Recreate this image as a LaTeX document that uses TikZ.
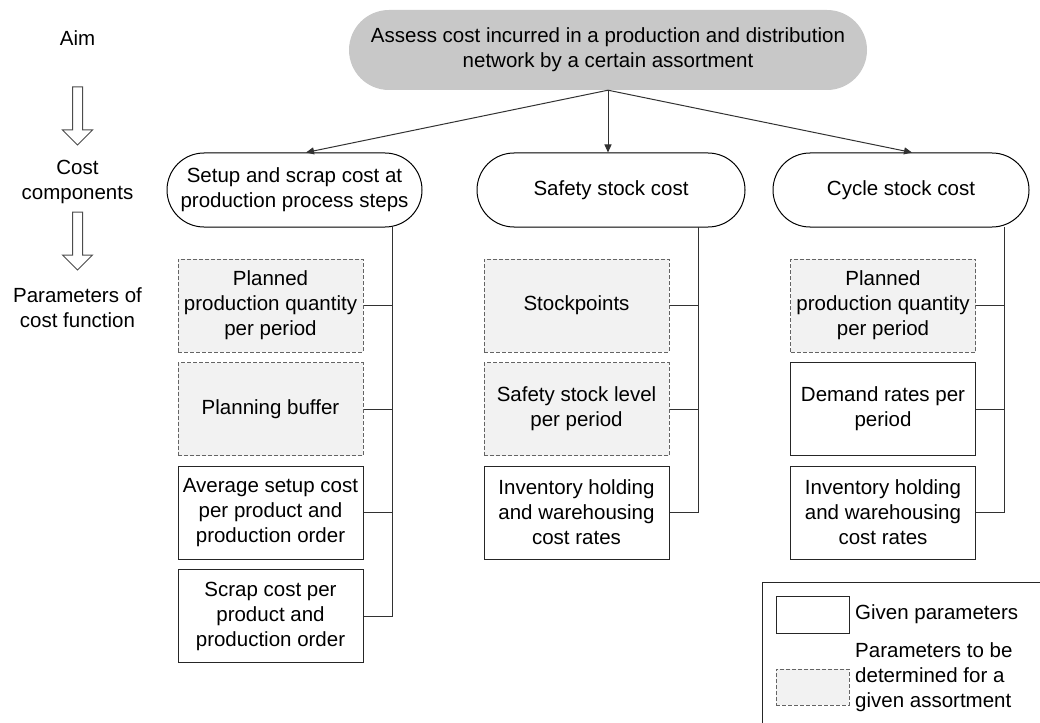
\documentclass[tikz,border=0pt]{standalone}
\usepackage{fontspec}
\setmainfont{Liberation Sans}
\usetikzlibrary{arrows.meta,calc}
\definecolor{aimgray}{RGB}{200,200,200}
\definecolor{boxfill}{RGB}{242,242,242}
\definecolor{dashgray}{RGB}{100,100,100}
\definecolor{linegray}{RGB}{50,50,50}
\begin{document}
\begin{tikzpicture}[x=1pt,y=-1pt,
 every node/.style={font=\fontsize{20.5}{25}\selectfont, align=center, inner sep=0pt},
 aimnode/.style={fill=aimgray, rounded corners=40pt, minimum width=518pt, minimum height=80pt},
 comp/.style={draw=black, line width=1pt, fill=white, rounded corners=37pt, minimum height=74pt},
 given/.style={draw=black!85, line width=1pt, fill=white, minimum width=185pt, minimum height=93pt},
 todet/.style={draw=dashgray, line width=1pt, dash pattern=on 4pt off 2pt, fill=boxfill, minimum width=185pt, minimum height=93pt},
 conn/.style={draw=linegray, line width=1pt},
 arr/.style={conn, -{Triangle[length=8pt,width=7pt]}},
 hollow/.style={draw=black!70, line width=1pt, fill=white},
 lbl/.style={anchor=west, align=left},
]
\useasboundingbox (0,0) rectangle (1040,722);
\begin{scope}
\clip (0,0) rectangle (1040,722);

% left-side labels
\node (laim) at (77.5,38) {Aim};
\node (lcost) at (77.5,182) {Cost\\components};
\node (lpar) at (77.5,307.5) {Parameters of\\cost function};
\draw[hollow] (72.5,87) -- (82.5,87) -- (82.5,130) -- (92.5,130) -- (77.5,145) -- (62.5,130) -- (72.5,130) -- cycle;
\draw[hollow] (72.5,212) -- (82.5,212) -- (82.5,255) -- (92.5,255) -- (77.5,270) -- (62.5,255) -- (72.5,255) -- cycle;

% aim
\node[aimnode] (aim) at (608,50) {Assess cost incurred in a production and distribution\\network by a certain assortment};

% cost components
\node[comp, minimum width=255pt] (c1) at (294.5,190) {Setup and scrap cost at\\production process steps};
\node[comp, minimum width=268pt] (c2) at (611,190) {Safety stock cost};
\node[comp, minimum width=256pt] (c3) at (901,190) {Cycle stock cost};

\draw[arr] (aim.south) -- ([xshift=11.5pt]c1.north);
\draw[arr] (aim.south) -- (aim.south |- c2.north);
\draw[arr] (aim.south) -- ([xshift=11pt]c3.north);

% parameters, column 1
\node[todet] (b11) at (270.5,305.5) {Planned\\production quantity\\per period};
\node[todet] (b12) at (270.5,409) {Planning buffer};
\node[given] (b13) at (270.5,512.5) {Average setup cost\\per product and\\production order};
\node[given] (b14) at (270.5,616) {Scrap cost per\\product and\\production order};

% parameters, column 2
\node[todet] (b21) at (576.5,305.5) {Stockpoints};
\node[todet] (b22) at (576.5,409) {Safety stock level\\per period};
\node[given] (b23) at (576.5,512.5) {Inventory holding\\and warehousing\\cost rates};

% parameters, column 3
\node[todet] (b31) at (883,305.5) {Planned\\production quantity\\per period};
\node[given] (b32) at (883,409) {Demand rates per\\period};
\node[given] (b33) at (883,512.5) {Inventory holding\\and warehousing\\cost rates};

% buses
\coordinate (k1) at (392,227);
\coordinate (k2) at (698,227);
\coordinate (k3) at (1004,227);
\draw[conn] (k1) |- (b14.east);
\draw[conn] (b11.east) -- (b11.east -| k1);
\draw[conn] (b12.east) -- (b12.east -| k1);
\draw[conn] (b13.east) -- (b13.east -| k1);
\draw[conn] (k2) |- (b23.east);
\draw[conn] (b21.east) -- (b21.east -| k2);
\draw[conn] (b22.east) -- (b22.east -| k2);
\draw[conn] (k3) |- (b33.east);
\draw[conn] (b31.east) -- (b31.east -| k3);
\draw[conn] (b32.east) -- (b32.east -| k3);

% legend
\draw[draw=black!85, line width=1pt] (762,740) -- (762,582) -- (1060,582);
\node[given, minimum width=73pt, minimum height=37pt] (lg1) at (812.5,614.5) {};
\node[todet, minimum width=73pt, minimum height=36pt] (lg2) at (812.5,687) {};
\node[lbl] (lt1) at (855,614.5) {Given parameters};
\node[lbl] (lt2) at (855,677) {Parameters to be\\determined for a\\given assortment};
\end{scope}
\end{tikzpicture}
\end{document}
